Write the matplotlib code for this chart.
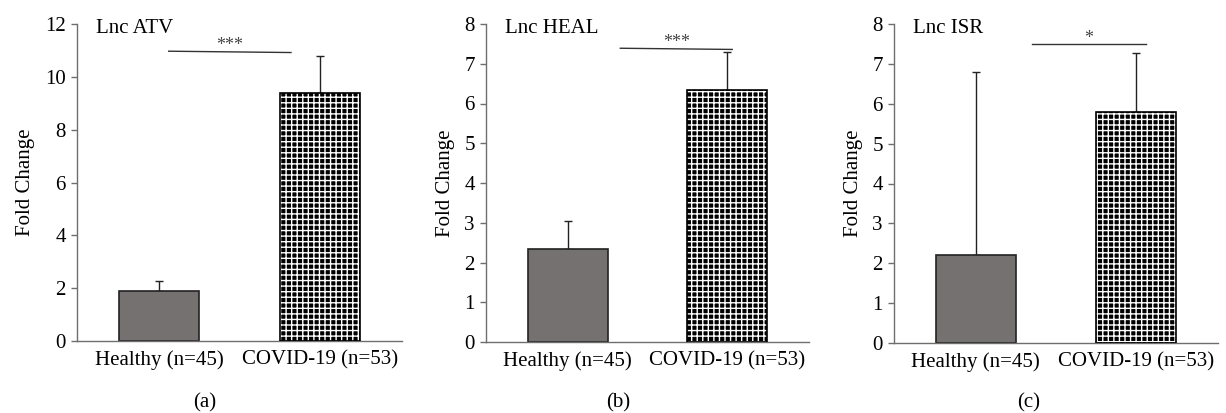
import matplotlib
matplotlib.use('Agg')
import matplotlib.pyplot as plt

plt.rcParams['font.family'] = ['Liberation Serif', 'DejaVu Serif']
plt.rcParams['hatch.linewidth'] = 1.0

# data
groups = ['Healthy (n=45)', 'COVID-19 (n=53)']
genes = ['Lnc ATV', 'Lnc HEAL', 'Lnc ISR']
panel_tags = ['(a)', '(b)', '(c)']
means_atv = [1.9, 9.37]
err_atv = [0.37, 1.43]
means_heal = [2.35, 6.33]
err_heal = [0.7, 0.97]
means_isr = [2.2, 5.8]
err_isr = [4.6, 1.48]
ymax = [12, 8, 8]
ystep = [2, 1, 1]
sig_stars = ['***', '***', '*']
sig_y_start = [10.97, 7.39, 7.49]
sig_y_end = [10.92, 7.36, 7.49]
sig_x = [(0.06, 0.82), (0.33, 1.03), (0.35, 1.06)]

means = [means_atv, means_heal, means_isr]
errs = [err_atv, err_heal, err_isr]

fig = plt.figure(figsize=(12.26, 4.13), dpi=100)
# axes boxes in pixels: left, right, bottom(y0), top
boxes = [(77, 402, 341, 24), (486, 809, 342, 24), (894, 1218, 343, 24)]
tag_x = [205, 618, 1029]
W, H = 1226, 413
axis_col = '#6e6e6e'
fs = 15

for i in range(3):
    l, r, b, t = boxes[i]
    ax = fig.add_axes([l / W, 1 - b / H, (r - l) / W, (b - t) / H])
    x = [0, 1]
    # grey healthy bar
    ax.bar(x[0], means[i][0], width=0.5, color='#757171', edgecolor='#222222', linewidth=1.2, zorder=2)
    # patterned covid bar: white crosses on black
    ax.bar(x[1], means[i][1], width=0.5, color='black', edgecolor='white', hatch='+++', linewidth=0, zorder=2)
    ax.bar(x[1], means[i][1], width=0.5, color='none', edgecolor='black', linewidth=1.2, zorder=3)
    ax.errorbar(x, means[i], yerr=[[0, 0], errs[i]], fmt='none', ecolor='#222222',
                elinewidth=1.0, capsize=3, capthick=1.0, zorder=1)

    ax.set_xlim(-0.51, 1.51)
    ax.set_ylim(0, ymax[i])
    ax.set_yticks(range(0, ymax[i] + 1, ystep[i]))
    ax.set_xticks(x)
    ax.set_xticklabels(groups, fontsize=fs)
    ax.tick_params(axis='x', length=0, pad=7)
    ax.tick_params(axis='y', length=4, width=1, color=axis_col, labelsize=fs, pad=4)
    for s in ['top', 'right']:
        ax.spines[s].set_visible(False)
    for s in ['left', 'bottom']:
        ax.spines[s].set_color(axis_col)
        ax.spines[s].set_linewidth(1.0)
    ax.spines['left'].set_zorder(4)
    ax.set_ylabel('Fold Change', fontsize=fs, labelpad=7)

    ax.text(0.06, 0.985, genes[i], transform=ax.transAxes, fontsize=fs, va='center', ha='left')
    xa, xb = sig_x[i]
    ax.plot([xa, xb], [sig_y_start[i], sig_y_end[i]], color='#333333', linewidth=1.0, clip_on=False)
    ax.annotate(sig_stars[i], xy=((xa + xb) / 2, sig_y_start[i]), xytext=(0, 1),
                textcoords='offset points', ha='center', va='baseline', fontsize=13, color='#444444')

    fig.text(tag_x[i] / W, 1 - 403 / H, panel_tags[i], ha='center', va='center', fontsize=fs)

fig.savefig('out.png', dpi=100)
